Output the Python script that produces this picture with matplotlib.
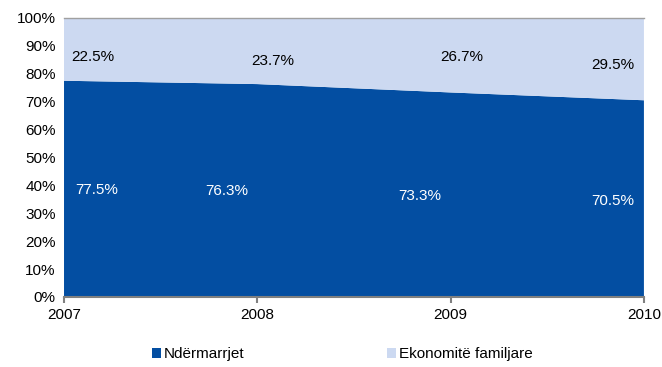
import numpy as np
import matplotlib.pyplot as plt

plt.rcParams['font.family'] = ['Liberation Sans', 'DejaVu Sans']

years = [2007, 2008, 2009, 2010]
ndermarrjet = [77.5, 76.3, 73.3, 70.5]
ekonomite = [22.5, 23.7, 26.7, 29.5]
series_names = ['Ndërmarrjet', 'Ekonomitë familjare']

dark = '#034EA2'
light = '#CCD9F1'
fs = 11

fig = plt.figure(figsize=(6.62, 3.67), dpi=100)
ax = fig.add_axes([0.0967, 0.191, 0.876, 0.760])

ax.stackplot(years, ndermarrjet, ekonomite, colors=[dark, light],
             labels=series_names, linewidth=0)

ax.set_xlim(years[0], years[-1])
ax.set_ylim(0, 100)
ax.set_yticks(np.arange(0, 101, 10))
ax.set_yticklabels([f'{v}%' for v in range(0, 101, 10)])
ax.set_xticks(years)
ax.set_xticklabels([str(y) for y in years])
ax.tick_params(axis='both', labelsize=fs, colors='black')
ax.tick_params(axis='y', length=0, pad=6)
ax.tick_params(axis='x', length=4, color='#808080', width=1.5, pad=4)

for s in ['left', 'right']:
    ax.spines[s].set_visible(False)
ax.spines['bottom'].set_color('#808080')
ax.spines['bottom'].set_linewidth(1.5)
ax.spines['top'].set_color('#A0A0A0')
ax.spines['top'].set_linewidth(1.0)

# data labels (offsets in years / percent)
low_pos = [(2007.17, 38.5), (2007.84, 38), (2008.84, 36), (2009.84, 34.5)]
high_pos = [(2007.15, 86), (2008.08, 84.5), (2009.06, 86), (2009.84, 83)]
for i in range(len(years)):
    ax.text(low_pos[i][0], low_pos[i][1], f'{ndermarrjet[i]}%', color='white',
            fontsize=fs, ha='center', va='center')
    ax.text(high_pos[i][0], high_pos[i][1], f'{ekonomite[i]}%', color='black',
            fontsize=fs, ha='center', va='center')

fig.legend(loc='lower center', bbox_to_anchor=(0.517, -0.022), ncol=2,
           frameon=False, fontsize=fs, handlelength=0.6, handleheight=0.6,
           handletextpad=0.2, columnspacing=9.3)

fig.savefig('out.png', dpi=100)
